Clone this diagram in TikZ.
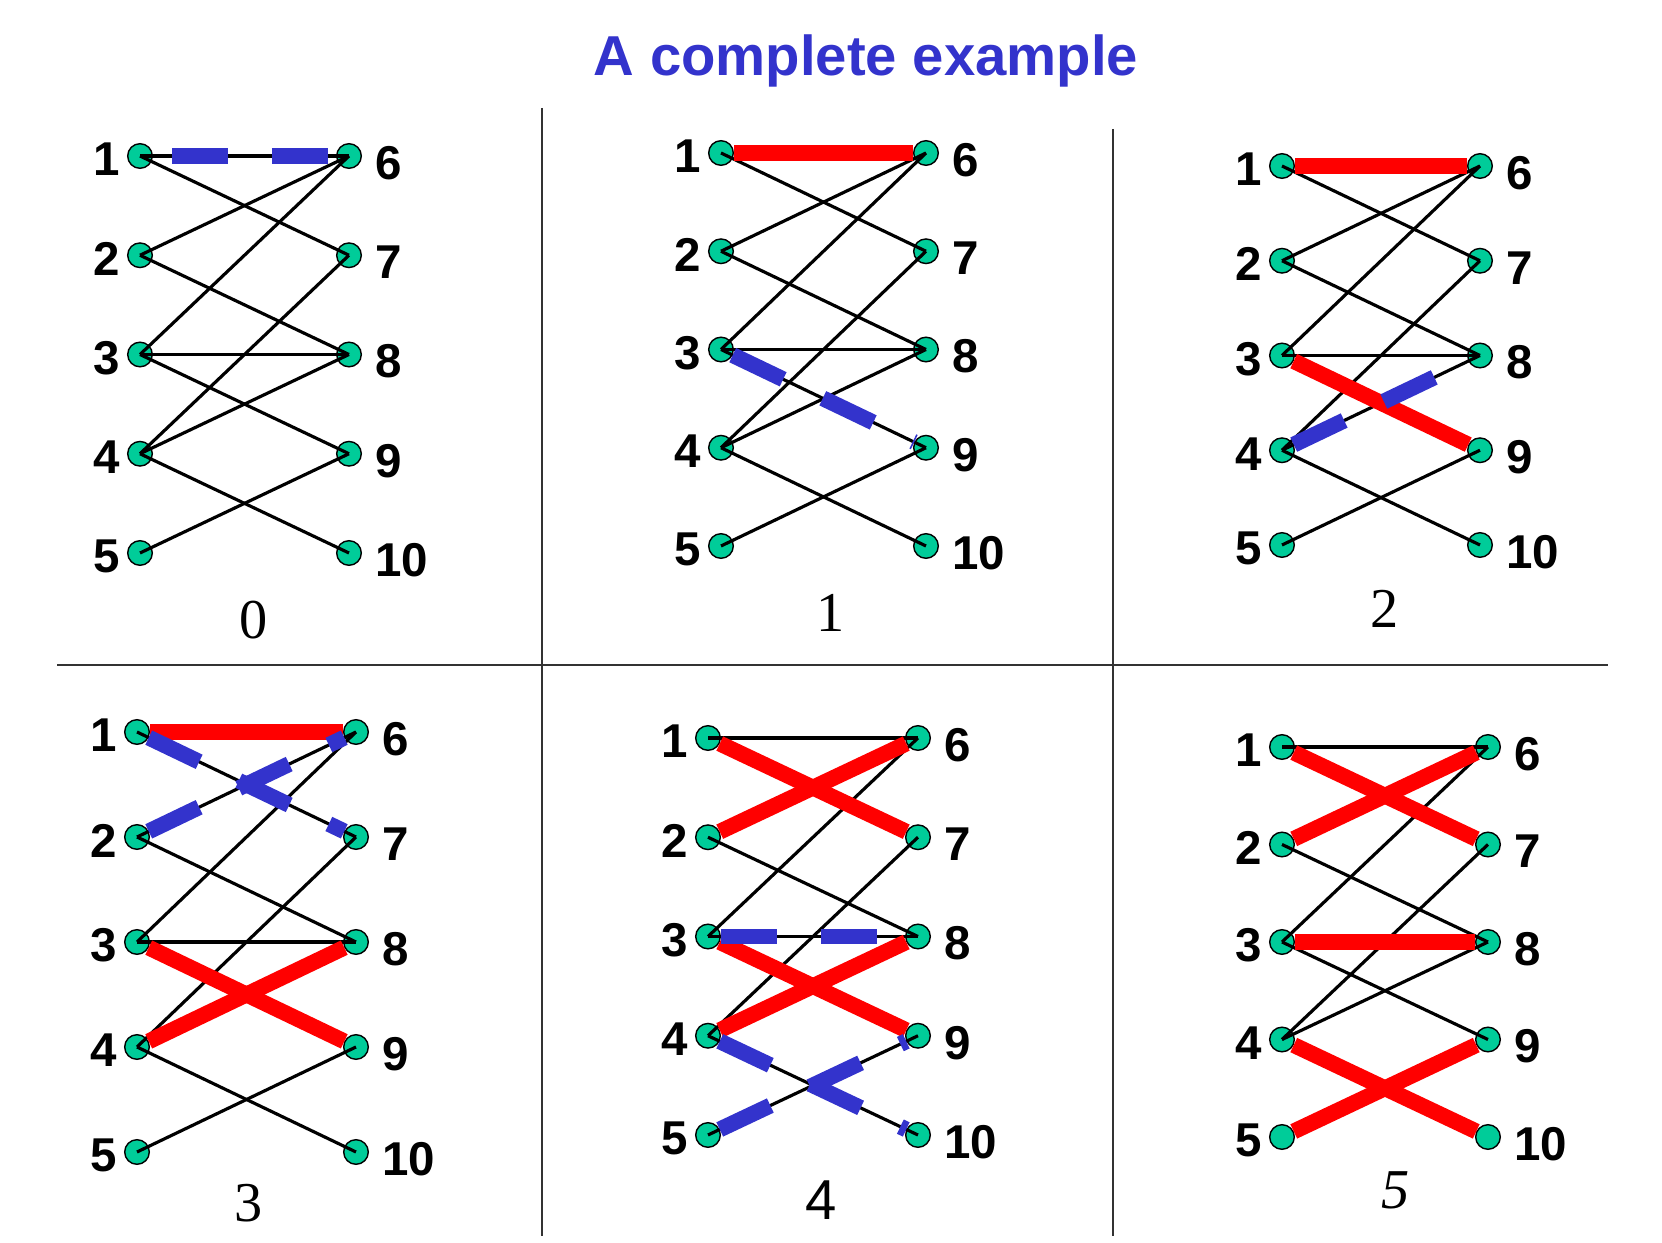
\documentclass[tikz,border=0pt]{standalone}
\usepackage{fontspec}
\setmainfont{Liberation Serif}
\setsansfont{Liberation Sans}
\usetikzlibrary{positioning}
\definecolor{vgreen}{RGB}{0,204,153}
\definecolor{mred}{RGB}{255,0,0}
\definecolor{pblue}{RGB}{51,51,204}
\tikzset{
  vtx/.style={circle, draw=black, thin, fill=vgreen, minimum size=7pt, inner sep=0pt},
  vlbl/.style={font=\sffamily\bfseries\fontsize{13.5}{16}\selectfont, inner sep=1pt,
               label distance=2.5pt},
  edg/.style={draw=black, line width=0.9pt},
  % matched edge
  mat/.style={draw=mred, line width=4.5pt},
  % augmenting path edge
  aug/.style={draw=pblue, line width=4.5pt, dash pattern=on 15.9pt off 12.5pt},
  steplbl/.style={font=\fontsize{16}{18}\selectfont},
  sep/.style={draw=black!80, line width=0.7pt}
}
% bipartite graph: prefix, x, y, width, spacing
\newcommand{\bipart}[5]{%
  \foreach \i in {1,...,5}
    \node[vtx, label={[vlbl, label distance=0.8pt, yshift=-1pt]left:\i}] (#1v\i) at ({#2},{#3+(\i-1)*#5}) {};
  \foreach \i in {6,...,10}
    \node[vtx, label={[vlbl, yshift=-2pt]right:\i}] (#1v\i) at ({#2+#4},{#3+(\i-6)*#5}) {};
}
\newcommand{\blackedges}[2]{\foreach \a/\b in {#2} \draw[edg] (#1v\a.center) -- (#1v\b.center);}
\newcommand{\redges}[2]{\foreach \a/\b in {#2} \draw[mat] (#1v\a) -- (#1v\b);}
\newcommand{\bluedges}[3][]{\foreach \a/\b in {#3} \draw[aug,#1] (#2v\a) -- (#2v\b);}

\begin{document}
\begin{tikzpicture}[x=0.01cm, y=-0.01cm]
  \useasboundingbox (0,0) rectangle (1662,1243);

  \node[font=\sffamily\bfseries\fontsize{16}{19}\selectfont, text=pblue] (title) at (866,61) {A complete example};

  \draw[sep] (542,108) -- (542,1236);
  \draw[sep] (1113,129) -- (1113,1236);
  \draw[sep] (57,665) -- (1608,665);

  \bipart{s0}{140}{156}{209}{99.25}
  \bipart{s1}{721}{153}{205}{98.25}
  \bipart{s2}{1282}{166}{198}{94.75}
  \bipart{s3}{137}{732}{219}{105}
  \bipart{s4}{708}{738}{210}{99.25}
  \bipart{s5}{1282}{747}{206}{97.5}

  % step 0
  \blackedges{s0}{1/6,1/7,2/6,2/8,3/6,3/8,3/9,4/7,4/8,4/10,5/9}
  \bluedges[dash phase=23pt]{s0}{1/6}
  % step 1
  \blackedges{s1}{1/7,2/6,2/8,3/6,3/8,3/9,4/7,4/8,4/10,5/9}
  \redges{s1}{1/6}
  \bluedges{s1}{3/9}
  % step 2
  \blackedges{s2}{1/7,2/6,2/8,3/6,3/8,4/7,4/8,4/10,5/9}
  \redges{s2}{1/6,3/9}
  \bluedges{s2}{4/8}
  % step 3
  \blackedges{s3}{1/7,2/6,2/8,3/6,3/8,4/7,4/10,5/9}
  \redges{s3}{1/6,3/9,4/8}
  \bluedges{s3}{2/6,1/7}
  % step 4
  \blackedges{s4}{1/6,2/8,3/6,3/8,4/7,4/10,5/9}
  \redges{s4}{1/7,2/6,3/9,4/8}
  \bluedges{s4}{3/8,4/10,5/9}
  % step 5
  \blackedges{s5}{1/6,2/8,3/6,3/9,4/7,4/8}
  \redges{s5}{1/7,2/6,3/8,4/10,5/9}

  \node[steplbl] (cap0) at (254,620) {0};
  \node[steplbl] (cap1) at (831,613) {1};
  \node[steplbl] (cap2) at (1385,609) {2};
  \node[steplbl] (cap3) at (249,1203) {3};
  \node[steplbl, font=\sffamily\fontsize{16}{18}\selectfont] (cap4) at (821,1200) {4};
  \node[steplbl, font=\itshape\fontsize{16}{18}\selectfont] (cap5) at (1396,1190) {5};
\end{tikzpicture}
\end{document}
